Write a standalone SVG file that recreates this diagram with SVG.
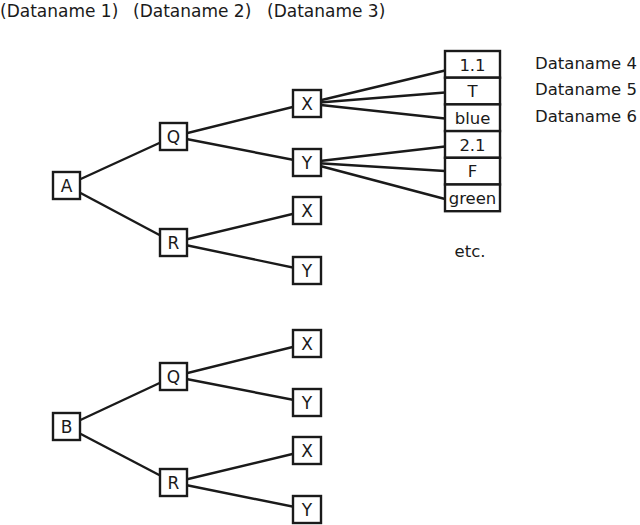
<svg xmlns="http://www.w3.org/2000/svg" width="640" height="525" viewBox="0 0 640 525">
<style>
text{font-family:"DejaVu Sans",sans-serif;font-size:17px;fill:#1a1a1a}
.s{font-size:16.5px}
.c{text-anchor:middle}
rect{fill:#fff;stroke:#1a1a1a;stroke-width:2.4}
line{stroke:#1a1a1a;stroke-width:2.4}
</style>
<rect x="0" y="0" width="640" height="525" style="stroke:none;fill:#fff"/>
<g id="headers">
<text x="0" y="17">(Dataname 1)</text>
<text x="133" y="17">(Dataname 2)</text>
<text x="267" y="17">(Dataname 3)</text>
<text x="535" y="68.5" class="s">Dataname 4</text>
<text x="535" y="95" class="s">Dataname 5</text>
<text x="535" y="121.5" class="s">Dataname 6</text>
<text x="470" y="256.5" class="c s">etc.</text>
</g>
<g id="connectors">
<line x1="66.5" y1="185.5" x2="173.5" y2="136.5"/>
<line x1="66.5" y1="185.5" x2="173.5" y2="242.5"/>
<line x1="173.5" y1="136.5" x2="307" y2="103.5"/>
<line x1="173.5" y1="136.5" x2="307" y2="162.5"/>
<line x1="173.5" y1="242.5" x2="307" y2="210.5"/>
<line x1="173.5" y1="242.5" x2="307" y2="270.5"/>
<line x1="307" y1="103.5" x2="445" y2="70.5"/>
<line x1="307" y1="103.5" x2="445" y2="92.5"/>
<line x1="307" y1="103.5" x2="445" y2="118.5"/>
<line x1="307" y1="162.5" x2="445" y2="146.5"/>
<line x1="307" y1="162.5" x2="445" y2="171"/>
<line x1="307" y1="162.5" x2="445" y2="199"/>
<line x1="66.5" y1="426.5" x2="173.5" y2="376.5"/>
<line x1="66.5" y1="426.5" x2="173.5" y2="482.5"/>
<line x1="173.5" y1="376.5" x2="307" y2="343.5"/>
<line x1="173.5" y1="376.5" x2="307" y2="402.5"/>
<line x1="173.5" y1="482.5" x2="307" y2="450.5"/>
<line x1="173.5" y1="482.5" x2="307" y2="509.5"/>
</g>
<g id="A"><rect x="53" y="172" width="27" height="27"/><text x="66.5" y="191.5" class="c">A</text></g>
<g id="AQ"><rect x="160" y="123" width="27" height="27"/><text x="173.5" y="142.5" class="c">Q</text></g>
<g id="AR"><rect x="160" y="229" width="27" height="27"/><text x="173.5" y="248.5" class="c">R</text></g>
<g id="AQX"><rect x="293" y="90" width="28" height="27"/><text x="307" y="109.5" class="c">X</text></g>
<g id="AQY"><rect x="293" y="149" width="28" height="27"/><text x="307" y="168.5" class="c">Y</text></g>
<g id="ARX"><rect x="293" y="197" width="28" height="27"/><text x="307" y="216.5" class="c">X</text></g>
<g id="ARY"><rect x="293" y="257" width="28" height="27"/><text x="307" y="276.5" class="c">Y</text></g>
<g id="B"><rect x="53" y="413" width="27" height="27"/><text x="66.5" y="432.5" class="c">B</text></g>
<g id="BQ"><rect x="160" y="363" width="27" height="27"/><text x="173.5" y="382.5" class="c">Q</text></g>
<g id="BR"><rect x="160" y="469" width="27" height="27"/><text x="173.5" y="488.5" class="c">R</text></g>
<g id="BQX"><rect x="293" y="330" width="28" height="27"/><text x="307" y="349.5" class="c">X</text></g>
<g id="BQY"><rect x="293" y="389" width="28" height="27"/><text x="307" y="408.5" class="c">Y</text></g>
<g id="BRX"><rect x="293" y="437" width="28" height="27"/><text x="307" y="456.5" class="c">X</text></g>
<g id="BRY"><rect x="293" y="496" width="28" height="27"/><text x="307" y="515.5" class="c">Y</text></g>
<g id="values">
<rect x="445" y="51" width="55" height="26.7"/><text x="472.5" y="70.5" class="c s">1.1</text>
<rect x="445" y="77.7" width="55" height="26.7"/><text x="472.5" y="97" class="c s">T</text>
<rect x="445" y="104.4" width="55" height="26.7"/><text x="472.5" y="123.5" class="c s">blue</text>
<rect x="445" y="131.1" width="55" height="26.7"/><text x="472.5" y="150.5" class="c s">2.1</text>
<rect x="445" y="157.8" width="55" height="26.7"/><text x="472.5" y="177" class="c s">F</text>
<rect x="445" y="184.5" width="55" height="26.7"/><text x="472.5" y="203.5" class="c s">green</text>
</g>
</svg>
